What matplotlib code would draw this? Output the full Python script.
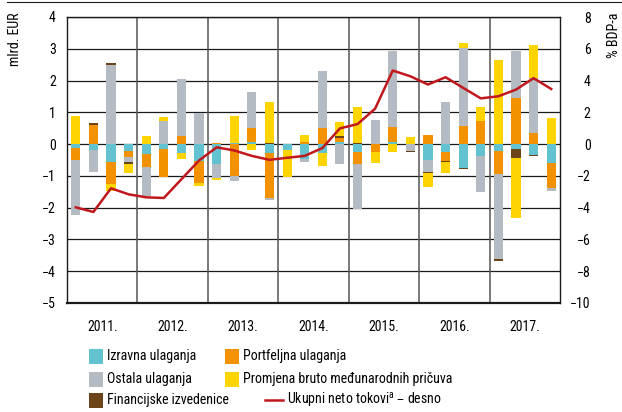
import matplotlib
matplotlib.use("Agg")
import matplotlib.pyplot as plt
from matplotlib.patches import Rectangle
from matplotlib.lines import Line2D
import numpy as np

plt.rcParams['font.family'] = ['Roboto Condensed', 'PT Sans Narrow', 'Archivo Narrow', 'DejaVu Sans']
plt.rcParams['axes.unicode_minus'] = True

years = ['2011.', '2012.', '2013.', '2014.', '2015.', '2016.', '2017.']

# Quarterly components, billion EUR (2011 Q1 ... 2017 Q4)
izravna = [-0.13, -0.18, -0.57, -0.23,
           -0.31, -0.16, -0.28, -0.53,
           -0.62, 0.05, 0.06, -0.28,
           -0.20, -0.47, -0.28, 0.08,
           -0.26, 0.00, 0.08, 0.00,
           -0.49, -0.26, -0.76, -0.36,
           -0.23, -0.15, -0.34, -0.60]
portfeljna = [-0.37, 0.60, -0.68, -0.18,
              -0.41, -0.86, 0.24, -0.68,
              0.05, -0.99, 0.46, -1.42,
              0.00, 0.08, 0.50, 0.12,
              -0.37, -0.24, 0.47, 0.00,
              0.29, -0.26, 0.56, 0.73,
              -0.71, 1.46, 0.35, -0.77]
ostala = [-1.74, -0.70, 2.48, -0.16,
          -0.92, 0.72, 1.81, 0.98,
          -0.45, -0.17, 1.12, -0.07,
          0.00, -0.10, 1.81, -0.63,
          -1.42, 0.77, 2.39, -0.21,
          -0.39, 1.34, 2.45, -1.14,
          -2.69, 1.46, 1.74, -0.09]
izvedenice = [0.00, 0.06, 0.08, -0.07,
              0.00, -0.03, 0.00, 0.00,
              0.00, 0.00, 0.00, 0.05,
              0.00, 0.00, 0.00, 0.05,
              0.05, 0.00, 0.00, -0.05,
              -0.03, -0.03, -0.03, 0.00,
              -0.04, -0.28, -0.02, 0.00]
pricuve = [0.89, 0.00, -0.24, -0.27,
           0.26, 0.12, -0.20, -0.10,
           -0.05, 0.82, -0.20, 1.26,
           -0.82, 0.22, -0.40, 0.46,
           1.13, -0.34, -0.26, 0.23,
           -0.45, -0.37, 0.16, 0.44,
           2.66, -1.88, 1.02, 0.83]
# Total net flows, % of GDP (right axis)
ukupni = [-3.98, -4.27, -2.78, -3.16,
          -3.35, -3.39, -2.21, -1.03,
          -0.20, -0.40, -0.74, -0.99,
          -0.86, -0.74, -0.25, 0.99,
          1.26, 2.23, 4.63, 4.27,
          3.75, 4.21, 3.54, 2.88,
          3.01, 3.43, 4.15, 3.47]

names = ['Izravna ulaganja', 'Portfeljna ulaganja', 'Ostala ulaganja',
         'Financijske izvedenice', 'Promjena bruto međunarodnih pričuva']
colors = ['#62C2D0', '#F39200', '#B4BBC2', '#6B4419', '#FFD400']
series = [izravna, portfeljna, ostala, izvedenice, pricuve]
line_color = '#C0181D'
line_label = 'Ukupni neto tokovi$^{\\mathregular{a}}$ – desno'
FS = 10

fig = plt.figure(figsize=(6.22, 4.12), dpi=100)
ax = fig.add_axes([67/622, 1-303/412, 493/622, 286/412])

n = len(izravna)
x = (np.arange(n) + 0.5) / 4.0
pos_base = np.zeros(n)
neg_base = np.zeros(n)
for vals, c in zip(series, colors):
    v = np.array(vals)
    p = np.where(v > 0, v, 0)
    m = np.where(v < 0, v, 0)
    ax.bar(x, p, width=0.13, bottom=pos_base, color=c, linewidth=0, zorder=2)
    ax.bar(x, m, width=0.13, bottom=neg_base, color=c, linewidth=0, zorder=2)
    pos_base += p
    neg_base += m

ax.set_xlim(0, 7)
ax.set_ylim(-5, 4)
ax.set_yticks(range(-5, 5))
ax.set_yticklabels([f'{v}'.replace('-', '−') for v in range(-5, 5)])
ax.set_xticks(np.arange(7) + 0.5)
ax.set_xticklabels(years)
ax.tick_params(axis='both', length=0, labelsize=FS)
ax.tick_params(axis='y', pad=8)
ax.tick_params(axis='x', pad=12)
for yv in range(-5, 5):
    ax.axhline(yv, color='#1a1a1a', lw=0.9, zorder=1)
for xv in range(1, 7):
    ax.axvline(xv, color='#555555', lw=1.1, zorder=1)
for s in ax.spines.values():
    s.set_color('#1a1a1a')
    s.set_linewidth(1.0)
ax.spines['bottom'].set_linewidth(1.6)

ax2 = ax.twinx()
ax2.set_ylim(-10, 8)
ax2.set_yticks(range(-10, 9, 2))
ax2.set_yticklabels([f'{v}'.replace('-', '−') for v in range(-10, 9, 2)])
ax2.tick_params(axis='y', length=0, labelsize=FS, pad=22)
for lab in ax2.get_yticklabels():
    lab.set_horizontalalignment('right')
ax2.plot(x, ukupni, color=line_color, lw=1.8, zorder=3)
for s in ax2.spines.values():
    s.set_visible(False)

fig.text(15/622, 1-13/412, 'mlrd. EUR', rotation=90, ha='center', va='top', fontsize=FS)
fig.text(614/622, 1-13/412, '% BDP-a', rotation=90, ha='center', va='top', fontsize=FS)

# thin rule along the top edge
fig.lines.append(Line2D([7/622, 1.0], [1-2/412]*2, transform=fig.transFigure,
                        color='#1a1a1a', lw=0.8))

# legend drawn in figure pixels
def px(xp, yp):
    return xp/622, 1-yp/412

def patch(xp, yp, c):
    x0, y0 = px(xp, yp + 7.5)
    fig.patches.append(Rectangle((x0, y0), 14/622, 15/412, transform=fig.transFigure,
                                 facecolor=c, edgecolor='none'))

rows = [356, 379, 400]
for idx, yp in [(0, rows[0]), (2, rows[1]), (3, rows[2])]:
    patch(89, yp, colors[idx])
    fig.text(*px(107, yp), names[idx], ha='left', va='center', fontsize=FS)
for idx, yp in [(1, rows[0]), (4, rows[1])]:
    patch(225, yp, colors[idx])
    fig.text(*px(243, yp), names[idx], ha='left', va='center', fontsize=FS)
fig.lines.append(Line2D([265/622, 283/622], [1-rows[2]/412]*2, transform=fig.transFigure,
                        color=line_color, lw=1.8))
fig.text(*px(287, rows[2]), line_label, ha='left', va='center', fontsize=FS)

fig.savefig('out.png', dpi=100)
